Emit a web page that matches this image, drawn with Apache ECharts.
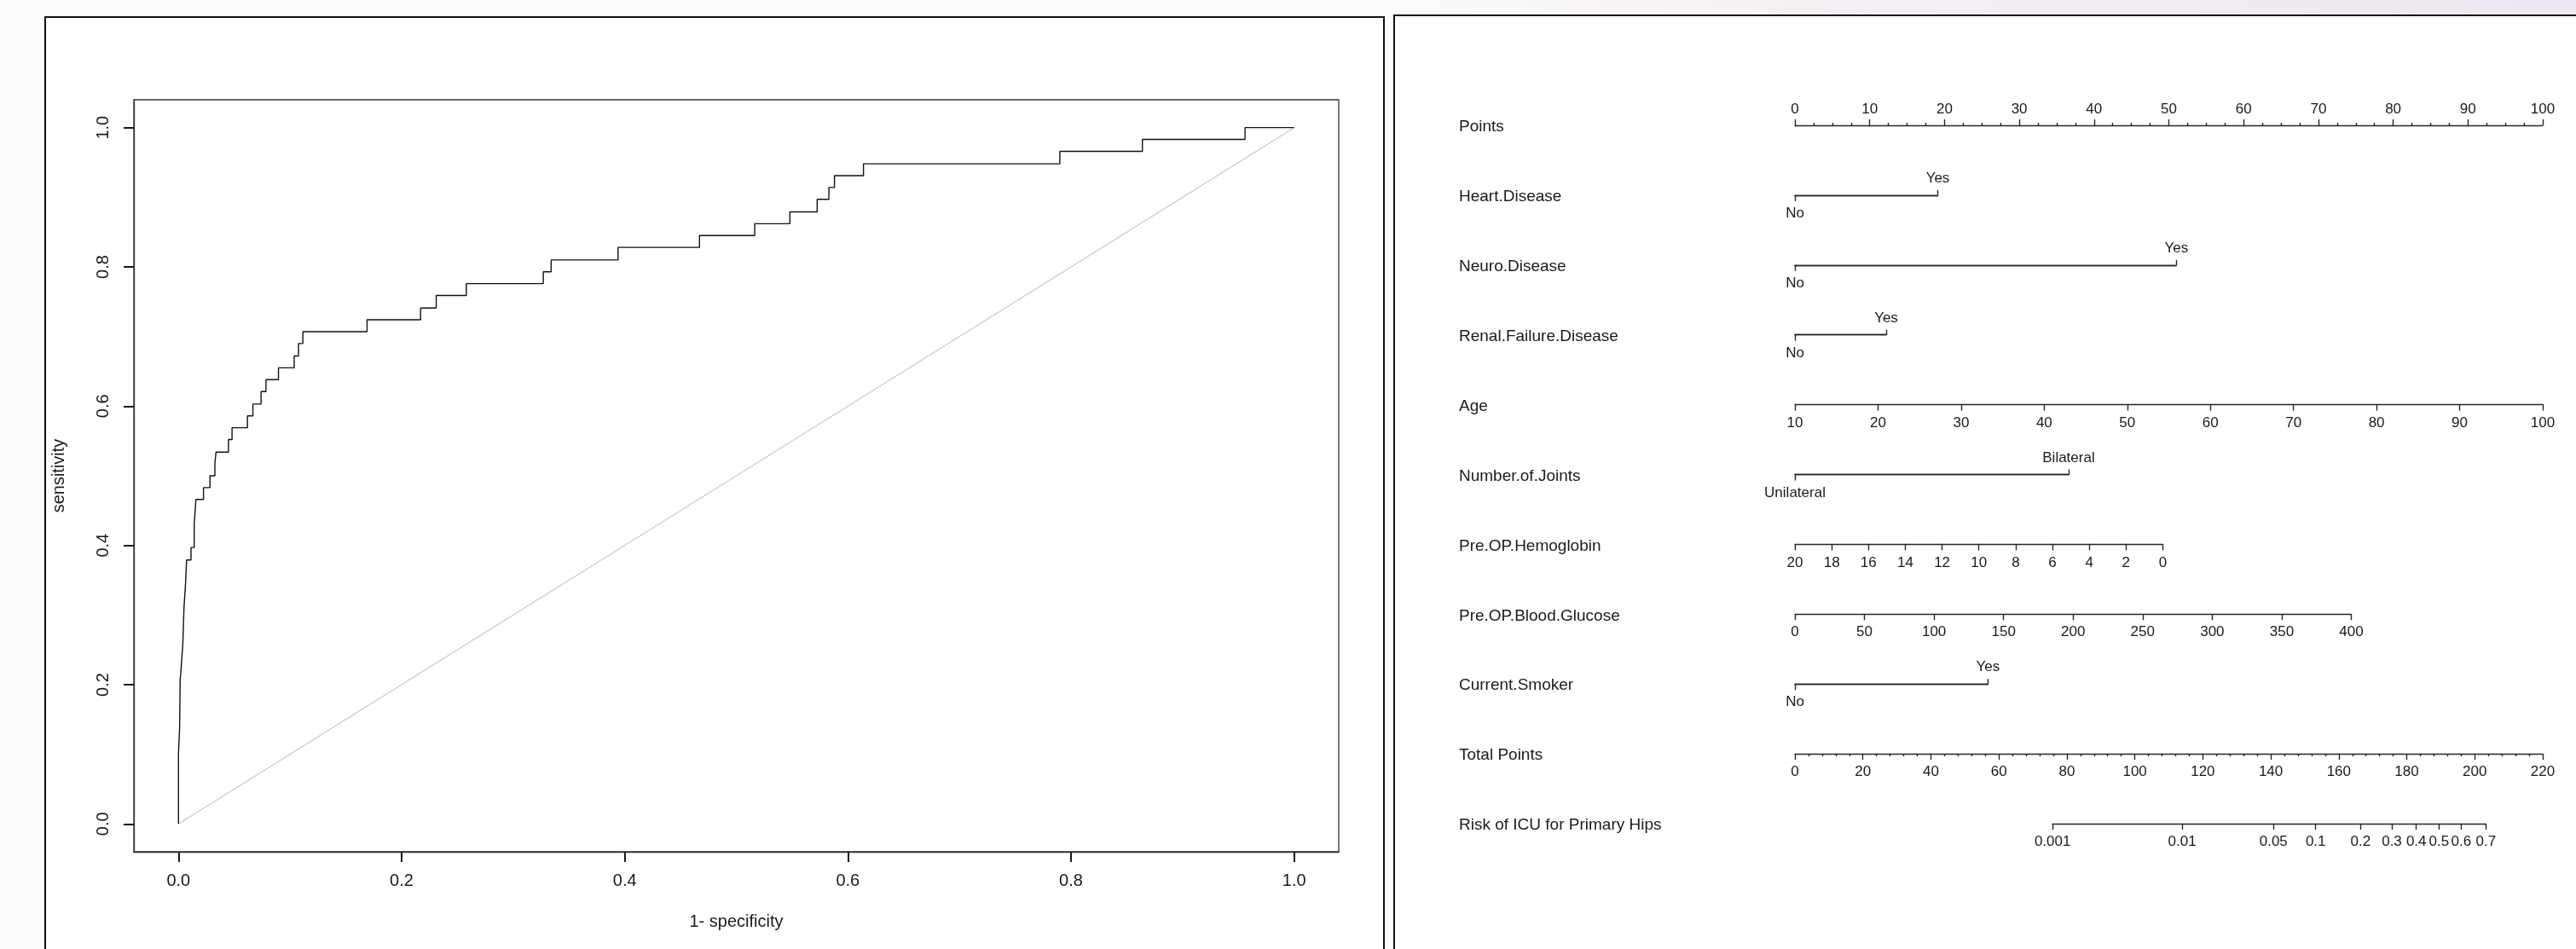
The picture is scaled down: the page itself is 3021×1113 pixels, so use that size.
<!DOCTYPE html>
<html>
<head>
<meta charset="utf-8">
<script src="https://cdn.jsdelivr.net/npm/echarts@6/dist/echarts.min.js"></script>
<style>
html,body{margin:0;padding:0;background:#fcfbf9;}
#c{width:3021px;height:1113px;}
</style>
</head>
<body>
<div id="c"></div>
<script>
// ---------------- ROC curve data (step vertices) ----------------
const rocFpr = [0, 0, 0.001, 0.001, 0.0015, 0.0015, 0.0024, 0.0024, 0.0039, 0.0039, 0.0049, 0.0049,
  0.0063, 0.0063, 0.0073, 0.0073, 0.0112, 0.0112, 0.0141, 0.0141, 0.0156, 0.0156, 0.0224, 0.0224,
  0.0282, 0.0282, 0.0326, 0.0326, 0.0336, 0.0336, 0.0448, 0.0448, 0.048, 0.048, 0.0618, 0.0618,
  0.0667, 0.0667, 0.074, 0.074, 0.0784, 0.0784, 0.0896, 0.0896, 0.1037, 0.1037, 0.1076, 0.1076,
  0.1115, 0.1115, 0.169, 0.169, 0.217, 0.217, 0.231, 0.231, 0.258, 0.258, 0.327, 0.327, 0.334, 0.334,
  0.394, 0.394, 0.467, 0.467, 0.5165, 0.5165, 0.548, 0.548, 0.5725, 0.5725, 0.583, 0.583, 0.588, 0.588,
  0.614, 0.614, 0.790, 0.790, 0.864, 0.864, 0.956, 0.956, 1.0];
const rocTpr = [0, 0.102, 0.102, 0.138, 0.138, 0.207, 0.207, 0.224, 0.224, 0.259, 0.259, 0.310,
  0.310, 0.345, 0.345, 0.379, 0.379, 0.397, 0.397, 0.431, 0.431, 0.466, 0.466, 0.483, 0.483, 0.500,
  0.500, 0.517, 0.517, 0.534, 0.534, 0.552, 0.552, 0.569, 0.569, 0.586, 0.586, 0.603, 0.603, 0.621,
  0.621, 0.638, 0.638, 0.655, 0.655, 0.672, 0.672, 0.690, 0.690, 0.707, 0.707, 0.724, 0.724, 0.741,
  0.741, 0.759, 0.759, 0.776, 0.776, 0.793, 0.793, 0.810, 0.810, 0.828, 0.828, 0.845, 0.845, 0.862,
  0.862, 0.879, 0.879, 0.897, 0.897, 0.914, 0.914, 0.931, 0.931, 0.948, 0.948, 0.966, 0.966, 0.983,
  0.983, 1.0, 1.0];
const diagFpr = [0, 1];
const diagTpr = [0, 1];
const rocTicks = [0, 0.2, 0.4, 0.6, 0.8, 1.0];

// ---------------- Nomogram data ----------------
const nomoLabels = ['Points', 'Heart.Disease', 'Neuro.Disease', 'Renal.Failure.Disease', 'Age',
  'Number.of.Joints', 'Pre.OP.Hemoglobin', 'Pre.OP.Blood.Glucose', 'Current.Smoker',
  'Total Points', 'Risk of ICU for Primary Hips'];
const pointsRange = [0, 100];
const heartLevels = ['No', 'Yes'];          const heartPts = [0, 19.1];
const neuroLevels = ['No', 'Yes'];          const neuroPts = [0, 51.0];
const renalLevels = ['No', 'Yes'];          const renalPts = [0, 12.2];
const ageRange = [10, 100];                 const agePts = [0, 100];
const jointsLevels = ['Unilateral', 'Bilateral']; const jointsPts = [0, 36.6];
const hemoRange = [20, 0];                  const hemoPts = [0, 49.2];
const glucoseRange = [0, 400];              const glucosePts = [0, 74.4];
const smokerLevels = ['No', 'Yes'];         const smokerPts = [0, 25.8];
const totalRange = [0, 220];
const riskLabels = ['0.001', '0.01', '0.05', '0.1', '0.2', '0.3', '0.4', '0.5', '0.6', '0.7'];
const riskTotalPts = [75.8, 113.9, 140.8, 153.2, 166.4, 175.6, 182.8, 189.5, 196.0, 203.3];

// ---------------- layout / style ----------------
const FONT = 'Liberation Sans';
const LINE = '#262626';
const TXT = '#1a1a1a';
const NX = 2105, NW = 877;          // pixel span of the Points axis
const ptsPx = NW / (pointsRange[1] - pointsRange[0]);
const rowY = i => 147 + 81.9 * i;

const grids = [], xAxes = [], yAxes = [], series = [];
const lineStyle = {color: LINE, width: 1.4};
const tickLabel = (extra) => Object.assign({color: TXT, fontSize: 17, fontFamily: FONT}, extra);
const rocEdge = {color: '#333', width: 1.3};
const rocTickStyle = {color: '#1a1a1a', width: 2};

// ROC grid
grids.push({left: 157, top: 117, width: 1413, height: 882, show: true, borderColor: '#333',
  borderWidth: 1.3, backgroundColor: 'rgba(0,0,0,0)', outerBoundsMode: 'none', containLabel: false});
xAxes.push({gridIndex: 0, type: 'value', position: 'bottom', min: -0.04, max: 1.04,
  axisLine: {show: true, onZero: false, lineStyle: rocEdge},
  axisTick: {show: true, inside: false, length: 12, customValues: rocTicks, lineStyle: rocTickStyle},
  axisLabel: {customValues: rocTicks, formatter: v => v.toFixed(1), margin: 24, color: TXT, fontSize: 20, fontFamily: FONT},
  splitLine: {show: false},
  name: '1- specificity', nameLocation: 'middle', nameGap: 72,
  nameTextStyle: {color: TXT, fontSize: 20, fontFamily: FONT}});
yAxes.push({gridIndex: 0, type: 'value', position: 'left', min: -0.04, max: 1.04,
  axisLine: {show: true, onZero: false, lineStyle: rocEdge},
  axisTick: {show: true, inside: false, length: 12, customValues: rocTicks, lineStyle: rocTickStyle},
  axisLabel: {customValues: rocTicks, formatter: v => v.toFixed(1), rotate: 90, margin: 26, color: TXT, fontSize: 20, fontFamily: FONT},
  splitLine: {show: false},
  name: 'sensitivity', nameLocation: 'middle', nameRotate: 90, nameGap: 78,
  nameTextStyle: {color: TXT, fontSize: 20, fontFamily: FONT}});
series.push({type: 'line', xAxisIndex: 0, yAxisIndex: 0, data: diagFpr.map((x, i) => [x, diagTpr[i]]),
  showSymbol: false, symbol: 'none', lineStyle: {color: '#c9c9c9', width: 1.2}, silent: true, z: 2});
series.push({type: 'line', xAxisIndex: 0, yAxisIndex: 0, data: rocFpr.map((x, i) => [x, rocTpr[i]]),
  showSymbol: false, symbol: 'none', lineStyle: {color: '#111', width: 1.4}, silent: true, z: 3});

function addGrid(left, width, top) {
  grids.push({left: left, width: width, top: top, height: 0, show: false, outerBoundsMode: 'none', containLabel: false});
  const g = grids.length - 1;
  yAxes.push({gridIndex: g, type: 'value', show: false, min: 0, max: 1});
  return g;
}

function contRow(i, range, pts, interval, opts) {
  opts = opts || {};
  const lo = Math.min(range[0], range[1]), hi = Math.max(range[0], range[1]);
  const g = addGrid(NX + pts[0] * ptsPx, (pts[1] - pts[0]) * ptsPx, rowY(i));
  const top = opts.position === 'top';
  xAxes.push({gridIndex: g, type: 'value', position: top ? 'top' : 'bottom', min: lo, max: hi,
    interval: interval, inverse: range[0] > range[1],
    axisLine: {show: true, onZero: false, lineStyle: lineStyle},
    axisTick: {show: true, inside: false, length: 7, lineStyle: lineStyle},
    minorTick: opts.minor ? {show: true, splitNumber: opts.minor, length: 3, lineStyle: lineStyle} : {show: false},
    axisLabel: tickLabel({margin: top ? 10 : 13}),
    splitLine: {show: false}});
}

function catRow(i, levels, pts) {
  const g = addGrid(NX + pts[0] * ptsPx, (pts[1] - pts[0]) * ptsPx, rowY(i));
  xAxes.push({gridIndex: g, type: 'value', position: 'bottom', min: pts[0], max: pts[1],
    axisLine: {show: true, onZero: false, lineStyle: lineStyle},
    axisTick: {show: true, inside: false, length: 7, customValues: [pts[0]], lineStyle: lineStyle},
    axisLabel: tickLabel({customValues: [pts[0]], formatter: () => levels[0], margin: 13}),
    splitLine: {show: false}});
  xAxes.push({gridIndex: g, type: 'value', position: 'top', min: pts[0], max: pts[1],
    axisLine: {show: true, onZero: false, lineStyle: lineStyle},
    axisTick: {show: true, inside: false, length: 6, customValues: [pts[1]], lineStyle: lineStyle},
    axisLabel: tickLabel({customValues: [pts[1]], formatter: () => levels[1], margin: 11}),
    splitLine: {show: false}});
}

contRow(0, pointsRange, [0, 100], 10, {position: 'top', minor: 4});
catRow(1, heartLevels, heartPts);
catRow(2, neuroLevels, neuroPts);
catRow(3, renalLevels, renalPts);
contRow(4, ageRange, agePts, 10);
catRow(5, jointsLevels, jointsPts);
contRow(6, hemoRange, hemoPts, 2);
contRow(7, glucoseRange, glucosePts, 50);
catRow(8, smokerLevels, smokerPts);
contRow(9, totalRange, [0, 100], 20, {minor: 5});

// Risk axis placed on the Total Points scale
(function () {
  const tpPx = NW / (totalRange[1] - totalRange[0]);
  const lo = riskTotalPts[0], hi = riskTotalPts[riskTotalPts.length - 1];
  const g = addGrid(NX + lo * tpPx, (hi - lo) * tpPx, rowY(10));
  const nearest = v => {
    let b = 0;
    riskTotalPts.forEach((p, k) => { if (Math.abs(p - v) < Math.abs(riskTotalPts[b] - v)) b = k; });
    return b;
  };
  xAxes.push({gridIndex: g, type: 'value', position: 'bottom', min: lo, max: hi,
    axisLine: {show: true, onZero: false, lineStyle: lineStyle},
    axisTick: {show: true, inside: false, length: 7, customValues: riskTotalPts, lineStyle: lineStyle},
    axisLabel: tickLabel({customValues: riskTotalPts, formatter: v => riskLabels[nearest(v)], margin: 13}),
    splitLine: {show: false}});
})();

// ---------------- decorations & row labels ----------------
const graphics = [
  {type: 'rect', z: -10, silent: true, shape: {x: 1634, y: 0, width: 1387, height: 18},
    style: {fill: new echarts.graphic.LinearGradient(0, 0, 1, 0, [
      {offset: 0, color: '#fcfbfa'}, {offset: 0.35, color: '#f5eff4'}, {offset: 1, color: '#efe7f1'}])}},
  {type: 'rect', z: -10, silent: true, shape: {x: 53, y: 20, width: 1570, height: 1150},
    style: {fill: '#ffffff', stroke: '#111', lineWidth: 2}},
  {type: 'rect', z: -10, silent: true, shape: {x: 1635, y: 18, width: 1450, height: 1150},
    style: {fill: '#ffffff', stroke: '#111', lineWidth: 2}}
];
nomoLabels.forEach((t, i) => {
  graphics.push({type: 'text', silent: true, x: 1711, y: rowY(i) + 2,
    style: {text: t, fill: TXT, font: '19px "' + FONT + '"', verticalAlign: 'middle', align: 'left'}});
});

const chart = echarts.init(document.getElementById('c'), null, {renderer: 'canvas'});
chart.setOption({
  backgroundColor: '#fcfbf9',
  animation: false,
  textStyle: {fontFamily: FONT},
  graphic: graphics,
  grid: grids,
  xAxis: xAxes,
  yAxis: yAxes,
  series: series
});
</script>
</body>
</html>
